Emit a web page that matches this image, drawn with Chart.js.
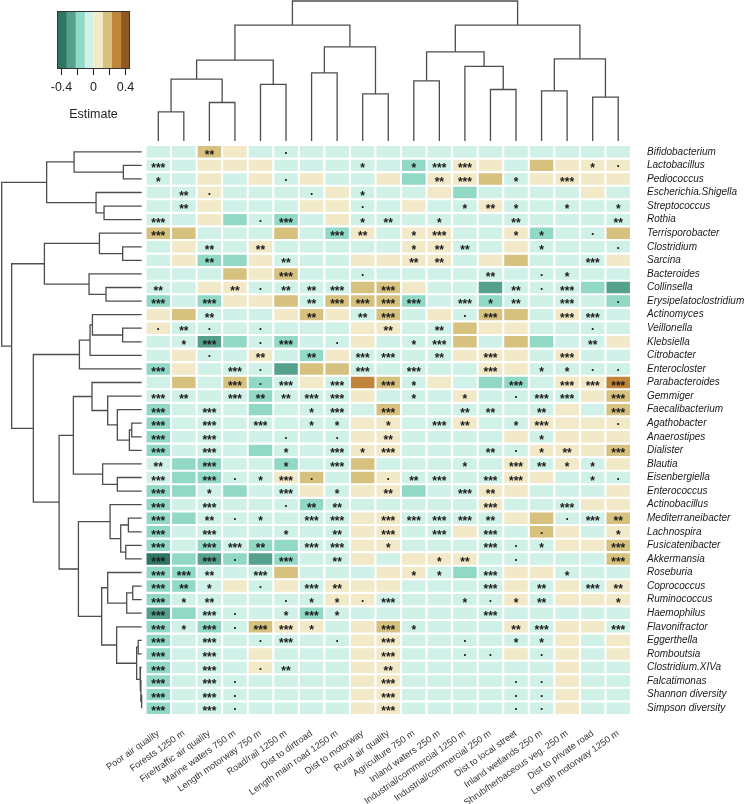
<!DOCTYPE html>
<html lang="en">
<head>
  <meta charset="UTF-8">
  <title>Estimate heatmap</title>
  <script src="https://cdn.jsdelivr.net/npm/chart.js"></script>
  <style>
    body { margin: 0; background: #fff; }
    #wrap { position: relative; width: 750px; height: 804px; }
    #wrap canvas { position: absolute; left: 0; top: 0; }
  </style>
</head>
<body>
<div id="wrap">
  <canvas id="heat" width="750" height="804"></canvas>
  <canvas id="rowTreeChart" width="146" height="804"></canvas>
  <canvas id="colTreeChart" width="750" height="145"></canvas>
  <canvas id="legendChart" width="160" height="126"></canvas>
</div>

<script>
  const columns = ['Poor air quality', 'Forests 1250 m', 'Fire/traffic air quality', 'Marine waters 750 m',
    'Length motorway 750 m', 'Road/rail 1250 m', 'Dist to dirtroad', 'Length main road 1250 m', 'Dist to motorway',
    'Rural air quality', 'Agriculture 750 m', 'Inland waters 250 m', 'Industrial/commercial 1250 m',
    'Industrial/commercial 250 m', 'Dist to local street', 'Inland wetlands 250 m', 'Shrub/herbaceous veg. 250 m',
    'Dist to private road', 'Length motorway 1250 m'];

  const rows = ['Bifidobacterium', 'Lactobacillus', 'Pediococcus', 'Escherichia.Shigella', 'Streptococcus', 'Rothia',
    'Terrisporobacter', 'Clostridium', 'Sarcina', 'Bacteroides', 'Collinsella', 'Erysipelatoclostridium', 'Actinomyces',
    'Veillonella', 'Klebsiella', 'Citrobacter', 'Enterocloster', 'Parabacteroides', 'Gemmiger', 'Faecalibacterium',
    'Agathobacter', 'Anaerostipes', 'Dialister', 'Blautia', 'Eisenbergiella', 'Enterococcus', 'Actinobacillus',
    'Mediterraneibacter', 'Lachnospira', 'Fusicatenibacter', 'Akkermansia', 'Roseburia', 'Coprococcus', 'Ruminococcus',
    'Haemophilus', 'Flavonifractor', 'Eggerthella', 'Romboutsia', 'Clostridium.XIVa', 'Falcatimonas',
    'Shannon diversity', 'Simpson diversity'];

  // estimate per row (one value per column)
  const estimates = [
    [-.06,-.06,.17,.06,-.06,-.06,-.06,-.06,-.06,-.06,-.06,-.06,-.06,-.06,-.06,-.06,-.06,-.06,-.06],
    [-.06,-.06,.06,.06,.06,-.06,-.06,-.06,-.06,-.06,-.17,-.06,.06,.06,-.06,.17,.06,.06,.06],
    [-.06,-.06,.06,-.06,.06,-.06,.06,-.06,-.06,.06,-.17,.06,.06,.17,-.06,.06,.06,.06,.06],
    [-.06,-.06,.06,-.06,-.06,-.06,-.06,.06,-.06,-.06,-.06,.06,-.17,-.06,-.06,-.06,-.06,.06,-.06],
    [-.06,-.06,.06,-.06,-.06,-.06,.06,.06,-.06,-.06,.06,-.06,-.06,.06,-.06,-.06,-.06,-.06,-.06],
    [-.06,-.06,.06,-.17,-.06,-.17,-.06,.06,-.06,-.06,-.06,-.06,-.06,-.06,-.06,-.06,-.06,-.06,-.06],
    [.17,.17,-.06,-.06,-.06,.17,-.06,-.17,.06,-.06,.06,.06,-.06,-.06,.06,-.17,-.06,-.06,.17],
    [-.06,.06,-.06,-.06,.06,-.06,-.06,-.06,-.06,-.06,.06,.06,-.06,-.06,.06,-.06,-.06,-.06,-.06],
    [-.06,.06,-.17,-.17,.06,-.06,-.06,-.06,.06,.06,.06,.06,-.06,.06,.17,-.06,-.06,-.06,.06],
    [-.06,-.06,-.06,.17,.06,.17,-.06,-.06,-.06,-.06,-.06,-.06,-.06,-.06,-.06,-.06,-.06,-.06,-.06],
    [-.06,-.06,.06,.06,-.06,-.06,-.06,-.06,.17,.17,.06,-.06,-.06,-.29,-.06,-.06,-.06,-.17,-.29],
    [-.17,-.06,-.17,.06,.06,.17,-.06,.17,.17,.17,-.17,-.06,-.06,-.17,-.06,-.06,-.06,-.06,-.17],
    [.06,.17,-.06,-.06,-.06,.06,.17,.06,-.06,.17,-.06,.06,-.06,.17,.17,-.06,.06,-.06,-.06],
    [.06,-.06,-.06,-.06,-.06,-.06,-.06,-.06,.06,.06,-.06,-.06,.17,.06,.06,-.06,-.06,-.06,-.06],
    [-.06,-.06,-.29,-.17,-.06,-.17,-.06,-.06,.06,-.06,-.06,-.06,.17,-.06,.17,-.17,-.06,-.06,.06],
    [-.06,.06,-.06,-.06,.06,-.06,-.17,.06,-.06,-.06,-.06,-.06,.06,.06,.06,-.06,.06,-.06,-.06],
    [-.17,.06,-.06,-.06,-.06,-.29,.17,.17,-.06,-.06,-.06,-.06,-.06,.06,.06,-.06,-.06,-.06,-.06],
    [-.06,.17,-.06,.17,-.17,-.06,.06,-.06,.29,.17,-.06,.06,-.06,-.17,-.17,-.06,.06,.06,.29],
    [-.06,-.06,-.06,-.06,-.17,-.06,-.06,-.06,.06,-.06,-.06,-.06,.06,-.06,-.06,-.06,-.06,.06,.17],
    [-.17,-.06,-.06,-.06,-.17,-.06,-.06,-.06,-.06,.17,-.06,-.06,-.06,-.06,-.06,-.06,.06,-.06,.17],
    [-.17,-.06,-.06,-.06,-.06,-.06,-.06,-.06,.06,.06,-.06,-.06,.06,-.06,-.06,.06,.06,.06,.06],
    [-.17,-.06,-.06,-.06,-.06,-.06,-.06,-.06,.06,.06,-.06,-.06,-.06,-.06,.06,-.06,.06,.06,.06],
    [-.17,-.06,-.06,-.06,-.17,-.06,-.06,-.06,.06,.06,-.06,-.06,-.06,-.06,-.06,.06,.06,.06,.17],
    [-.06,-.17,-.17,-.06,-.06,-.17,-.06,-.06,.17,-.06,-.06,-.06,-.06,-.06,.06,-.06,.06,-.06,.06],
    [-.06,-.17,-.17,-.06,-.06,.06,.17,-.06,.17,.06,-.06,-.06,-.06,-.06,.06,.06,-.06,-.06,-.06],
    [-.17,-.17,-.06,-.17,-.06,-.06,.06,-.06,.06,.06,-.17,-.06,-.06,.06,.06,-.06,-.06,-.06,.06],
    [-.17,-.06,-.06,-.06,-.06,-.06,-.17,-.06,-.06,-.06,-.06,-.06,-.06,.06,-.06,-.06,-.06,.06,.06],
    [-.17,-.17,-.06,-.06,-.06,-.06,-.06,-.06,.06,.06,-.06,-.06,-.06,-.06,.06,.17,-.06,-.06,.17],
    [-.17,-.06,-.06,-.06,-.06,-.06,-.06,-.06,.06,.06,-.06,-.06,.06,-.06,-.06,.17,.06,-.06,.06],
    [-.17,-.06,-.17,-.06,-.17,-.17,-.06,-.06,.06,.06,-.06,-.06,-.06,-.06,-.06,-.06,.06,.06,.17],
    [-.40,-.17,-.29,-.17,-.29,-.17,-.06,-.06,.06,-.06,.06,.06,.06,-.06,-.06,-.06,-.06,-.06,.17],
    [-.17,-.17,-.06,-.06,-.06,.17,-.06,-.06,-.06,.06,.06,-.06,-.17,-.06,.06,.06,-.06,-.06,-.06],
    [-.17,-.17,-.06,.06,-.06,.06,-.06,.06,.06,.06,-.06,-.06,-.06,-.06,.06,-.06,.06,-.06,.06],
    [-.17,-.06,-.06,-.06,-.06,-.06,-.06,.06,.06,-.06,-.06,-.06,-.06,-.06,.06,-.06,.06,.06,.06],
    [-.29,-.17,-.06,-.06,-.06,-.06,-.17,-.06,-.06,-.06,-.06,-.06,-.06,-.06,-.06,-.06,-.06,-.06,-.06],
    [-.17,-.06,-.17,-.06,.17,.06,.06,-.06,.06,.17,-.06,-.06,-.06,-.06,.06,-.06,.06,.06,-.06],
    [-.17,-.06,-.06,-.06,-.06,-.06,-.06,-.06,.06,.06,-.06,-.06,-.06,-.06,-.06,-.06,.06,-.06,.06],
    [-.17,-.06,-.06,-.06,.06,-.06,-.06,-.06,.06,.06,-.06,-.06,-.06,-.06,.06,-.06,.06,-.06,.06],
    [-.17,-.06,-.06,-.06,.06,-.06,-.06,-.06,.06,.06,-.06,-.06,-.06,-.06,-.06,-.06,.06,-.06,-.06],
    [-.17,-.06,-.06,-.06,-.06,-.06,-.06,-.06,.06,.06,-.06,-.06,-.06,-.06,-.06,-.06,.06,-.06,-.06],
    [-.17,-.06,-.06,-.06,-.06,-.06,-.06,-.06,.06,.06,-.06,-.06,-.06,-.06,-.06,-.06,.06,-.06,-.06],
    [-.17,-.06,-.06,-.06,-.06,-.06,-.06,-.06,.06,.06,-.06,-.06,-.06,-.06,-.06,-.06,.06,-.06,-.06]
  ];

  // significance label per cell, "-" = none
  const signif = [
    '- - ** - - . - - - - - - - - - - - - -',
    '*** - - - - - - - * - * *** *** - - - - * .',
    '* - - - - . - - - - - ** *** - * - *** - -',
    '- ** . - - - . - * - - - - - - - - - -',
    '- ** - - - - - - . - - - * ** * - * - *',
    '*** - - - . *** - - * ** - * - - ** - - - **',
    '*** - - - - - - *** ** - * *** - - * * - . -',
    '- - ** - ** - - - - - * ** ** - - * - - .',
    '- - ** - - ** - - - - ** ** - - - - - *** -',
    '- - - - - *** - - . - - - - ** - . * - -',
    '** - - ** . ** ** *** - *** - - - - ** . *** - -',
    '*** - *** - - - ** *** *** *** *** - *** * ** - *** - .',
    '- - ** - - - ** - ** *** - - . *** - - *** *** -',
    '. ** . - . - - - - ** - ** - - - - - . -',
    '- * *** - . *** - . - - * *** - - - - - ** -',
    '- - . - ** - ** - *** *** - ** - *** - - *** - -',
    '*** - - *** . - - - *** - *** - - *** - * * . .',
    '- - - *** . *** - *** - *** * - - - *** - *** *** ***',
    '*** ** - *** ** ** *** *** - - * - * - . *** *** - ***',
    '*** - *** - - - * *** - *** - - ** ** - ** - - ***',
    '*** - *** - *** - * * - * - *** ** - * *** - - .',
    '*** - *** - - . - . - ** - - - - - * - - -',
    '*** - *** - - * - *** * *** - - - ** . * ** - ***',
    '** - *** - - * - *** - - - - * - *** ** * * -',
    '*** - *** . * *** . - - . ** *** - *** *** - - * .',
    '*** - * - - *** - * - ** - - *** ** - - - - -',
    '*** - *** - - . ** ** - - - - - *** - - *** - -',
    '*** - ** . * - *** *** - *** *** *** *** ** - - . *** **',
    '*** - *** - - * - ** - *** - *** - *** - . - - *',
    '*** - *** *** ** - *** *** - * - - - *** . * - - ***',
    '*** - *** . - *** - ** - - - * ** - . - - - ***',
    '*** *** ** - *** - - - - - * * - *** - - * - -',
    '*** ** * - . - *** ** - - - - - *** - ** - *** **',
    '*** * ** - - . * * . *** - - * . * ** - - *',
    '*** - *** . - * *** * - - - - - *** - - - - -',
    '*** * *** . *** *** * - - *** * - - - ** *** - - ***',
    '*** - *** - . *** - . - *** - - . - * * - - -',
    '*** - *** - - - - - - *** - - . . - . - - -',
    '*** - *** - . ** - - - ** - - - - - - - - -',
    '*** - *** . - - - - - *** - - - - . . - - -',
    '*** - *** . - - - - - *** - - - - . . - - -',
    '*** - *** . - - - - - *** - - - - . . - - -'
  ];

  // dendrograms: [height, left, right], leaves are indices
  const colTree =
    [1.000,
      [0.828,
        [0.578, [0.442, [0.208, 0, 1], [0.275, 2, 3]], [0.404, 4, 5]],
        [0.673, [0.487, 6, 7], [0.336, 8, 9]]],
      [0.828,
        [0.637, [0.430, 10, 11], [0.533, 12, [0.368, 13, 14]]],
        [0.587, [0.358, 15, 16], [0.313, 17, 18]]]];

  const rowTree =
    [1.000,
      [0.679,
        [0.483, 0, [0.131, 1, 2]],
        [0.326, 3, [0.269, 4, 5]]],
      [0.929,
        [0.695,
          [0.302, 6, [0.136, 7, 8]],
          [0.376, 9, [0.255, 10, 11]]],
        [0.774,
          [0.445, [0.369, [0.352, 12, [0.136, 13, 14]], 15], 16],
          [0.590,
            [0.488,
              [0.355, 17, [0.243, 18, [0.174, 19, [0.088, [0.071, 20, 21], 22]]]],
              [0.279, 23, [0.174, 24, 25]]],
            [0.452,
              [0.226, 26, [0.150, [0.095, 27, 28], [0.114, 29, 30]]],
              [0.286,
                [0.243, 31, [0.107, [0.064, 32, 33], 34]],
                [0.179, 35, [0.036, [0.025, 36, 37], [0.012, 38, [0.006, 39, [0.001, 40, 41]]]]]
              ]
            ]
          ]
        ]
      ]
    ];

  const colorBreaks = [-0.456, -0.342, -0.228, -0.114, 0, 0.114, 0.228, 0.342, 0.456];
  const palette = ['#2f7563', '#55a18e', '#91d8c5', '#cff1e7', '#f1e9c7', '#d6c17f', '#c0843a', '#8f5a1d'];
  const legendTicks = [-0.4, -0.2, 0, 0.2, 0.4];
  const legendTickLabels = ['-0.4', '', '0', '', '0.4'];

  const fontFamily = "'Liberation Sans', Arial, sans-serif";
  Chart.defaults.font.family = fontFamily;
  Chart.defaults.animation = false;
  Chart.defaults.responsive = false;
  Chart.defaults.plugins.legend.display = false;
  Chart.defaults.plugins.tooltip.enabled = false;

  function colorFor(v) {
    for (let i = 1; i < colorBreaks.length; i++) {
      if (v < colorBreaks[i]) return palette[i - 1];
    }
    return palette[palette.length - 1];
  }

  // walk a tree into U-shaped segments
  function treeSegments(node) {
    if (typeof node === 'number') return { pos: node, h: 0, segs: [] };
    const [h, a, b] = node;
    const l = treeSegments(a), r = treeSegments(b);
    const seg = [[l.pos, l.h], [l.pos, h], [r.pos, h], [r.pos, r.h]];
    return { pos: (l.pos + r.pos) / 2, h: h, segs: [...l.segs, ...r.segs, seg] };
  }

  const lineStyle = { showLine: true, pointRadius: 0, borderColor: '#4d4d4d', borderWidth: 1.3, clip: false };
  const hidden = { display: false };

  // heatmap
  const starPlugin = {
    id: 'stars',
    afterDatasetsDraw(chart) {
      const { ctx, scales: { x, y } } = chart;
      ctx.save();
      ctx.fillStyle = '#1a1a1a';
      ctx.textAlign = 'center';
      ctx.textBaseline = 'alphabetic';
      ctx.font = 'bold 12px ' + fontFamily;
      signif.forEach((line, r) => {
        line.split(' ').forEach((s, c) => {
          if (s === '-') return;
          const px = x.getPixelForValue(c);
          const py = y.getPixelForValue(r + 0.5);
          ctx.fillText(s, px, py + (s === '.' ? 2 : 7));
        });
      });
      ctx.restore();
    }
  };

  new Chart(document.getElementById('heat'), {
    type: 'bar',
    data: {
      labels: columns,
      datasets: rows.map((name, r) => ({
        label: name,
        data: columns.map(() => [r + 0.08, r + 0.92]),
        backgroundColor: estimates[r].map(colorFor),
        grouped: false,
        barPercentage: 0.92,
        categoryPercentage: 1,
        borderWidth: 0
      }))
    },
    options: {
      layout: { padding: { left: 145.5, top: 145, right: 0, bottom: 0 } },
      scales: {
        x: {
          type: 'category',
          grid: { display: false, drawTicks: false },
          border: { display: false },
          afterFit: axis => { axis.height = 89; },
          ticks: { autoSkip: false, maxRotation: 35, minRotation: 35, padding: 13, color: '#333', font: { size: 9.3 } }
        },
        y: {
          type: 'linear', min: 0, max: rows.length, reverse: true, position: 'right',
          grid: { display: false, drawTicks: false },
          border: { display: false },
          afterBuildTicks: axis => { axis.ticks = rows.map((_, i) => ({ value: i + 0.5 })); },
          afterFit: axis => { axis.width = 119; },
          ticks: {
            autoSkip: false, padding: 16, color: '#1a1a1a',
            font: { size: 10, style: 'italic' },
            callback: v => rows[Math.floor(v)]
          }
        }
      }
    },
    plugins: [starPlugin]
  });

  // column dendrogram
  new Chart(document.getElementById('colTreeChart'), {
    type: 'scatter',
    data: {
      datasets: treeSegments(colTree).segs.map(s => ({
        ...lineStyle,
        data: s.map(([p, h]) => ({ x: p, y: h }))
      }))
    },
    options: {
      layout: { padding: { left: 145.5, right: 119, top: 1, bottom: 4 } },
      scales: {
        x: { type: 'linear', min: -0.5, max: columns.length - 0.5, ...hidden },
        y: { type: 'linear', min: 0, max: 1, ...hidden }
      }
    }
  });

  // row dendrogram
  new Chart(document.getElementById('rowTreeChart'), {
    type: 'scatter',
    data: {
      datasets: treeSegments(rowTree).segs.map(s => ({
        ...lineStyle,
        data: s.map(([p, h]) => ({ x: h, y: p + 0.5 }))
      }))
    },
    options: {
      layout: { padding: { left: 1.7, right: 4.3, top: 145, bottom: 89 } },
      scales: {
        x: { type: 'linear', min: 0, max: 1, reverse: true, ...hidden },
        y: { type: 'linear', min: 0, max: rows.length, reverse: true, ...hidden }
      }
    }
  });

  // colour key
  const outline = {
    id: 'outline',
    afterDatasetsDraw(chart) {
      const { ctx, chartArea: a } = chart;
      ctx.save();
      ctx.strokeStyle = '#333';
      ctx.lineWidth = 1;
      ctx.strokeRect(a.left + 0.5, a.top + 0.5, a.right - a.left - 1, a.bottom - a.top - 1);
      ctx.restore();
    }
  };

  new Chart(document.getElementById('legendChart'), {
    type: 'bar',
    data: {
      labels: ['Estimate'],
      datasets: palette.map((c, i) => ({
        data: [[colorBreaks[i], colorBreaks[i + 1]]],
        backgroundColor: c,
        grouped: false,
        barPercentage: 1,
        categoryPercentage: 1,
        borderWidth: 0
      }))
    },
    options: {
      indexAxis: 'y',
      layout: { padding: { left: 57, right: 30, top: 11 } },
      scales: {
        x: {
          type: 'linear', min: colorBreaks[0], max: colorBreaks[colorBreaks.length - 1],
          afterBuildTicks: axis => { axis.ticks = legendTicks.map(v => ({ value: v })); },
          afterFit: axis => { axis.height = 57; },
          grid: { display: true, drawOnChartArea: false, drawTicks: true, tickLength: 6, color: '#222' },
          border: { display: false },
          ticks: {
            padding: 5, maxRotation: 0, minRotation: 0, autoSkip: false, color: '#222',
            font: { size: 12.5 }, callback: (v, i) => legendTickLabels[i]
          },
          title: { display: true, text: 'Estimate', color: '#222', font: { size: 12.5 }, padding: { top: 4, bottom: 4 } }
        },
        y: { display: false }
      }
    },
    plugins: [outline]
  });
</script>
</body>
</html>
